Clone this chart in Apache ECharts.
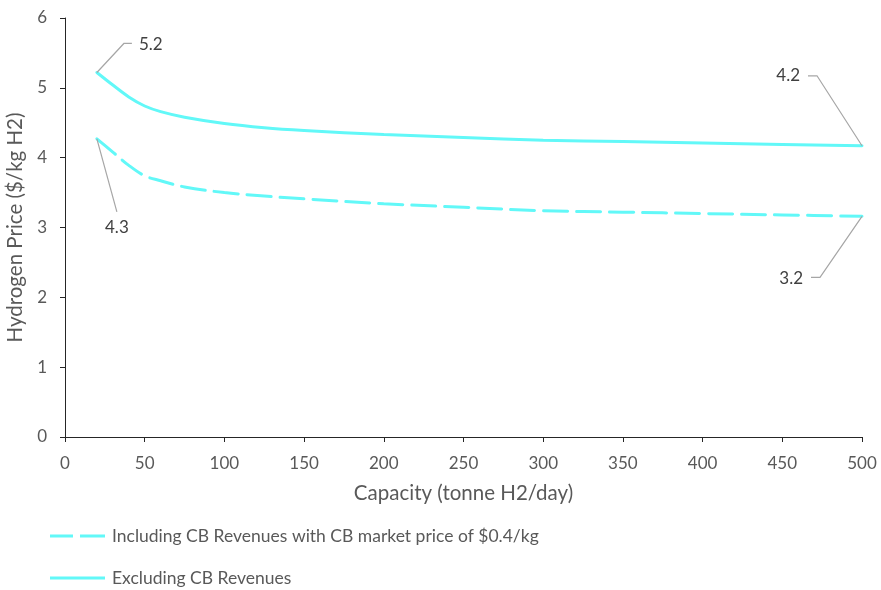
<!DOCTYPE html>
<html>
<head>
<meta charset="utf-8">
<script src="https://cdn.jsdelivr.net/npm/echarts@6/dist/echarts.min.js"></script>
<style>
  html, body { margin: 0; padding: 0; background: #fff; }
  #chart { width: 881px; height: 590px; }
</style>
</head>
<body>
<div id="chart"></div>
<script>
// Plant capacity (tonne H2/day)
var capacity = [20, 30, 40, 50, 60, 75, 100, 125, 150, 200, 250, 300, 350, 400, 450, 500];

// Levelised hydrogen price ($/kg H2)
var priceInclCB = [4.27, 4.08, 3.89, 3.74, 3.67, 3.58, 3.50, 3.45, 3.41, 3.34, 3.29, 3.24, 3.22, 3.20, 3.18, 3.16];
var priceExclCB = [5.22, 5.04, 4.87, 4.74, 4.66, 4.58, 4.49, 4.43, 4.39, 4.33, 4.29, 4.25, 4.23, 4.21, 4.19, 4.17];

var seriesNames = [
  'Including CB Revenues with CB market price of $0.4/kg',
  'Excluding CB Revenues'
];

var xTicks = { min: 0, max: 500, interval: 50 };
var yTicks = { min: 0, max: 6, interval: 1 };

var FONT = 'Lato, "Open Sans", sans-serif';
var LINE_COLOR = '#62F8F8';
var DASH = [24, 9];

// Callouts for the first and last point of each curve
var calloutPoints = [
  [capacity[0], priceExclCB[0]],
  [capacity[0], priceInclCB[0]],
  [capacity[capacity.length - 1], priceExclCB[priceExclCB.length - 1]],
  [capacity[capacity.length - 1], priceInclCB[priceInclCB.length - 1]]
];

// Leader-line shape (pixel offsets from the point) and text placement
var calloutGeom = [
  { path: [[27, -29], [35, -29]], text: [42, -28], align: 'left' },
  { path: [[20, 73]], text: [20, 89], align: 'center' },
  { path: [[-45, -70], [-54, -70]], text: [-62, -70], align: 'right' },
  { path: [[-42, 61], [-51, 61]], text: [-59, 62], align: 'right' }
];

// Legend swatches: a long-dash stroke and a solid stroke, 55 x 3
var ICON_DASHED = 'path://M0,0h23v3h-23z M30,0h25v3h-25z';
var ICON_SOLID = 'path://M0,0h55v3h-55z';

function pairs(xs, ys) {
  return xs.map(function (x, i) { return [x, ys[i]]; });
}

function legendRow(name, icon, top) {
  return {
    data: [{ name: name, icon: icon }],
    orient: 'horizontal',
    left: 50,
    top: top,
    padding: 0,
    itemWidth: 55,
    itemHeight: 3,
    itemGap: 7,
    selectedMode: false,
    textStyle: { fontFamily: FONT, fontSize: 17.5, color: '#595959', padding: [0, 0, 0, 2] }
  };
}

var chart = echarts.init(document.getElementById('chart'), null, { renderer: 'canvas' });

chart.setOption({
  animation: false,
  textStyle: { fontFamily: FONT },
  grid: { left: 65, right: 19, top: 18, bottom: 153, containLabel: false, outerBoundsMode: 'none' },
  legend: [
    legendRow(seriesNames[0], ICON_DASHED, 527),
    legendRow(seriesNames[1], ICON_SOLID, 569)
  ],
  xAxis: {
    type: 'value',
    min: xTicks.min,
    max: xTicks.max,
    interval: xTicks.interval,
    name: 'Capacity (tonne H2/day)',
    nameLocation: 'middle',
    nameGap: 46,
    nameTextStyle: { fontFamily: FONT, fontSize: 20.5, color: '#595959' },
    axisLine: { show: true, lineStyle: { color: '#262626', width: 1 } },
    axisTick: { show: true, length: 5, lineStyle: { color: '#262626' } },
    axisLabel: { margin: 18, fontFamily: FONT, fontSize: 17, color: '#595959' },
    splitLine: { show: false }
  },
  yAxis: {
    type: 'value',
    min: yTicks.min,
    max: yTicks.max,
    interval: yTicks.interval,
    name: 'Hydrogen Price ($/kg H2)',
    nameLocation: 'middle',
    nameGap: 34,
    nameTextStyle: { fontFamily: FONT, fontSize: 20.5, color: '#595959' },
    axisLine: { show: true, lineStyle: { color: '#262626', width: 1 } },
    axisTick: { show: true, length: 5, lineStyle: { color: '#262626' } },
    axisLabel: { margin: 18, fontFamily: FONT, fontSize: 17, color: '#595959' },
    splitLine: { show: false }
  },
  series: [
    {
      name: seriesNames[0],
      type: 'line',
      data: pairs(capacity, priceInclCB),
      smooth: 0.35,
      showSymbol: false,
      symbol: 'none',
      color: LINE_COLOR,
      lineStyle: { color: LINE_COLOR, width: 3, type: DASH, cap: 'round' }
    },
    {
      name: seriesNames[1],
      type: 'line',
      data: pairs(capacity, priceExclCB),
      smooth: 0.35,
      showSymbol: false,
      symbol: 'none',
      color: LINE_COLOR,
      lineStyle: { color: LINE_COLOR, width: 3, cap: 'round' }
    },
    {
      name: 'callouts',
      type: 'custom',
      data: calloutPoints,
      silent: true,
      z: 5,
      renderItem: function (params, api) {
        var p = api.coord([api.value(0), api.value(1)]);
        var g = calloutGeom[params.dataIndex];
        var pts = [p].concat(g.path.map(function (d) { return [p[0] + d[0], p[1] + d[1]]; }));
        return {
          type: 'group',
          children: [
            {
              type: 'polyline',
              shape: { points: pts },
              style: { stroke: '#a6a6a6', lineWidth: 1.2, fill: null }
            },
            {
              type: 'text',
              x: p[0] + g.text[0],
              y: p[1] + g.text[1],
              style: {
                text: api.value(1).toFixed(1),
                fill: '#404040',
                font: '17px ' + FONT,
                align: g.align,
                verticalAlign: 'middle'
              }
            }
          ]
        };
      }
    }
  ]
});
</script>
</body>
</html>
